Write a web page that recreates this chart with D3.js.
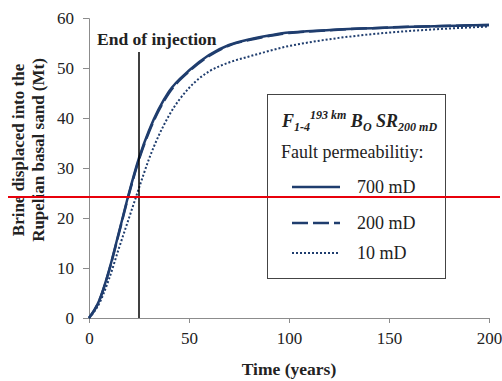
<!DOCTYPE html>
<html>
<head>
<meta charset="utf-8">
<script src="https://cdn.jsdelivr.net/npm/d3@7"></script>
<style>
  body { margin: 0; background: #fff; }
  text { font-family: "Liberation Serif", "Times New Roman", serif; fill: #222; }
</style>
</head>
<body>
<div id="chart"></div>
<script>
// values
var years      = [0, 5, 10, 15, 20, 25, 30, 40, 50, 60, 70, 80, 90, 100, 200];
var perm700    = [0, 3.4, 9.5, 17.2, 25.0, 32.0, 37.5, 45.3, 49.5, 52.6, 54.6, 55.7, 56.5, 57.1, 58.6];
var perm200    = [0, 3.3, 9.4, 17.0, 24.8, 31.7, 37.2, 45.0, 49.3, 52.4, 54.5, 55.6, 56.4, 57.0, 58.6];
var perm10     = [0, 2.8, 7.8, 14.0, 20.0, 26.0, 31.8, 40.5, 46.0, 49.3, 51.1, 52.3, 53.4, 54.4, 58.3];
var xTicks     = [0, 50, 100, 150, 200];
var yTicks     = [0, 10, 20, 30, 40, 50, 60];
var seriesNames = ["700 mD", "200 mD", "10 mD"];
var injectionEnd = 25;

var width = 502, height = 381;
var navy = "#1f3d6e";

var svg = d3.select("#chart").append("svg")
    .attr("width", width)
    .attr("height", height);

var x = d3.scaleLinear().domain([0, 200]).range([89, 489]);
var y = d3.scaleLinear().domain([0, 60]).range([318, 18]);

// axes
var xAxis = svg.append("g")
    .attr("transform", "translate(0," + y(0) + ")")
    .call(d3.axisBottom(x).tickValues(xTicks).tickSize(5).tickPadding(9));
var yAxis = svg.append("g")
    .attr("transform", "translate(" + x(0) + ",0)")
    .call(d3.axisLeft(y).tickValues(yTicks).tickSize(6).tickPadding(9));

[xAxis, yAxis].forEach(function (g) {
  g.select(".domain").attr("stroke", "#8c8c8c");
  g.selectAll(".tick line").attr("stroke", "#8c8c8c");
  g.selectAll(".tick text")
      .attr("fill", "#222")
      .style("font-family", "'Liberation Serif', serif")
      .style("font-size", "17px");
});

// lines
var styles = [
  { data: perm700, dash: null,  w: 2.5 },
  { data: perm200, dash: "16,5", w: 2.5 },
  { data: perm10,  dash: "2,2",  w: 2 }
];

var line = d3.line()
    .x(function (d) { return x(d[0]); })
    .y(function (d) { return y(d[1]); })
    .curve(d3.curveMonotoneX);

styles.slice().reverse().forEach(function (s) {
  svg.append("path")
      .datum(years.map(function (t, i) { return [t, s.data[i]]; }))
      .attr("d", line)
      .attr("fill", "none")
      .attr("stroke", navy)
      .attr("stroke-width", s.w)
      .attr("stroke-dasharray", s.dash);
});

// end of injection marker
svg.append("line")
    .attr("x1", x(injectionEnd)).attr("x2", x(injectionEnd))
    .attr("y1", 52).attr("y2", y(0))
    .attr("stroke", "#000")
    .attr("stroke-width", 1.5);

svg.append("text")
    .attr("x", 97).attr("y", 45)
    .style("font-size", "17.5px")
    .style("font-weight", "bold")
    .text("End of injection");

// axis titles
svg.append("text")
    .attr("x", 289).attr("y", 375)
    .attr("text-anchor", "middle")
    .style("font-size", "17.5px")
    .style("font-weight", "bold")
    .text("Time (years)");

var yTitle = svg.append("text")
    .attr("transform", "translate(24,150) rotate(-90)")
    .attr("text-anchor", "middle")
    .style("font-size", "17px")
    .style("font-weight", "bold");
yTitle.append("tspan").attr("x", 0).attr("y", 0).text("Brine displaced into the");
yTitle.append("tspan").attr("x", 0).attr("y", 20).text("Rupelian basal sand (Mt)");

// legend
var legend = svg.append("g");
legend.append("rect")
    .attr("x", 267.5).attr("y", 94.5)
    .attr("width", 178).attr("height", 184)
    .attr("fill", "#fff")
    .attr("stroke", "#444")
    .attr("stroke-width", 1);

var title = legend.append("text")
    .attr("x", 282).attr("y", 127)
    .style("font-size", "18px")
    .style("font-weight", "bold")
    .style("font-style", "italic");
title.append("tspan").text("F");
title.append("tspan").attr("dy", 4).style("font-size", "12px").text("1-4");
title.append("tspan").attr("dy", -12).style("font-size", "12px").text("193 km");
title.append("tspan").attr("dy", 8).text(" B");
title.append("tspan").attr("dy", 4).style("font-size", "12px").text("O");
title.append("tspan").attr("dy", -4).text(" SR");
title.append("tspan").attr("dy", 4).style("font-size", "12px").text("200 mD");

legend.append("text")
    .attr("x", 281).attr("y", 158)
    .style("font-size", "18px")
    .text("Fault permeabilitiy:");

var rowY = [187, 223, 253];
styles.forEach(function (s, i) {
  legend.append("line")
      .attr("x1", 292).attr("x2", 340)
      .attr("y1", rowY[i]).attr("y2", rowY[i])
      .attr("stroke", navy)
      .attr("stroke-width", s.w)
      .attr("stroke-dasharray", s.dash);
  legend.append("text")
      .attr("x", 357).attr("y", rowY[i] + 6)
      .style("font-size", "18px")
      .text(seriesNames[i]);
});

// red marker line across the figure
svg.append("line")
    .attr("x1", 8).attr("x2", 500)
    .attr("y1", 197).attr("y2", 197)
    .attr("stroke", "#e8000b")
    .attr("stroke-width", 2);
</script>
</body>
</html>
